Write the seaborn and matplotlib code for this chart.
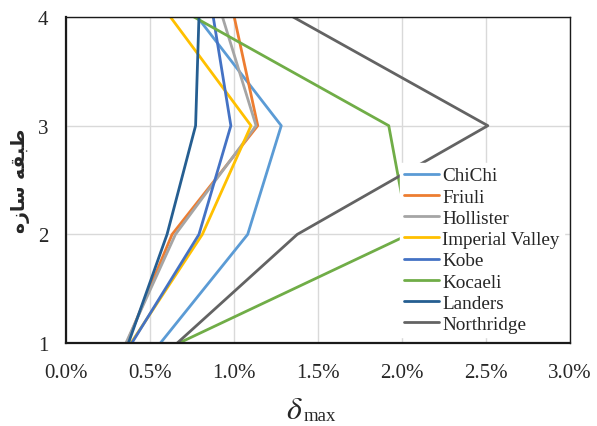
import matplotlib
matplotlib.use("Agg")
import matplotlib.pyplot as plt
import seaborn as sns
import pandas as pd
from matplotlib.ticker import FuncFormatter

stories = [1, 2, 3, 4]
chichi = [0.56, 1.08, 1.28, 0.78]
friuli = [0.36, 0.63, 1.14, 1.00]
hollister = [0.355, 0.65, 1.13, 0.93]
imperial = [0.385, 0.81, 1.10, 0.62]
kobe = [0.39, 0.79, 0.98, 0.875]
kocaeli = [0.67, 2.04, 1.92, 0.76]
landers = [0.37, 0.60, 0.77, 0.79]
northridge = [0.66, 1.375, 2.51, 1.35]

names = ["ChiChi", "Friuli", "Hollister", "Imperial Valley", "Kobe",
         "Kocaeli", "Landers", "Northridge"]
series = [chichi, friuli, hollister, imperial, kobe, kocaeli, landers, northridge]
colors = ["#5B9BD5", "#ED7D31", "#A5A5A5", "#FFC000", "#4472C4",
          "#70AD47", "#255E91", "#636363"]

rows = []
for n, s in zip(names, series):
    for st, v in zip(stories, s):
        rows.append({"name": n, "story": st, "drift": v / 100.0})
df = pd.DataFrame(rows)

sns.set_theme(style="white")
plt.rcParams["font.family"] = ["Liberation Serif", "DejaVu Sans"]
plt.rcParams["mathtext.fontset"] = "stix"

fig = plt.figure(figsize=(5.97, 4.27), dpi=100)
ax = fig.add_axes([0.111, 0.194, 0.844, 0.764])

sns.lineplot(data=df, x="drift", y="story", hue="name", hue_order=names,
             palette=dict(zip(names, colors)), sort=False, estimator=None,
             orient="y", linewidth=2, ax=ax)

ax.set_xlim(0, 0.03)
ax.set_ylim(1, 4)
ax.set_xticks([0, 0.005, 0.01, 0.015, 0.02, 0.025, 0.03])
ax.xaxis.set_major_formatter(FuncFormatter(lambda v, p: f"{v*100:.1f}%"))
ax.set_yticks([1, 2, 3, 4])
ax.grid(True, color="#D9D9D9", linewidth=1)
ax.set_axisbelow(True)
ax.tick_params(axis="both", labelsize=15, length=0)
ax.tick_params(axis="x", pad=14)
ax.tick_params(axis="y", pad=13)
for sp in ["left", "bottom"]:
    ax.spines[sp].set_color("#1a1a1a")
    ax.spines[sp].set_linewidth(1.6)
for sp in ["top", "right"]:
    ax.spines[sp].set_color("#1a1a1a")
    ax.spines[sp].set_linewidth(1.0)

ax.set_xlabel("")
fig.text(303 / 597, 1 - 419 / 427, r"$\delta$", fontsize=23, ha="right", va="baseline")
fig.text(304 / 597, 1 - 421 / 427, "max", fontsize=13.5, ha="left", va="baseline")

# Arabic label "طبقه سازه" in presentation forms (visual order) for correct shaping
ylab = "\uFEE9\uFEAF\uFE8E\uFEB3 \uFEEA\uFED8\uFE92\uFEC3"
ax.set_ylabel(ylab, fontsize=13.5, fontweight="bold", family=["DejaVu Sans"])
ax.yaxis.set_label_coords(-0.072, 0.50)

leg = ax.legend(loc="upper left", bbox_to_anchor=(0.662, 0.552), frameon=True,
                fontsize=13.8, labelspacing=0.2, handlelength=1.85,
                handletextpad=0.16, borderpad=0.2, borderaxespad=0.0)
leg.get_frame().set_facecolor("white")
leg.get_frame().set_edgecolor("white")
leg.get_frame().set_alpha(1.0)
leg.get_frame().set_boxstyle("square", pad=0)

fig.savefig("out.png", dpi=100)
